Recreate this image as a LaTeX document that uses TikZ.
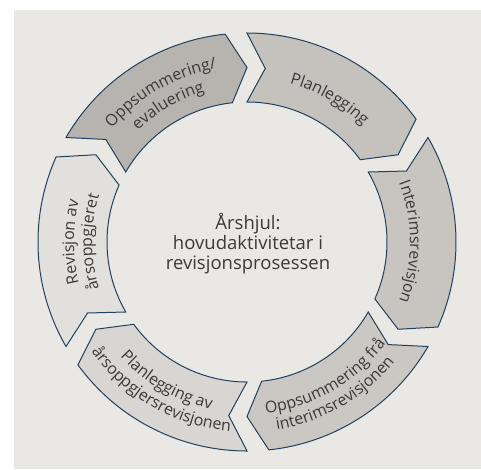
\documentclass[tikz,border=0pt]{standalone}
\usepackage{fontspec}
\setmainfont{Open Sans}
\usetikzlibrary{decorations.text}
\definecolor{bgc}{HTML}{EAE8E5}
\definecolor{rim}{HTML}{22405F}
\definecolor{ink}{HTML}{3A3A3A}
\definecolor{fa}{HTML}{C5C1BD}
\definecolor{fb}{HTML}{C8C4C0}
\definecolor{fc}{HTML}{CBC7C3}
\definecolor{fd}{HTML}{D8D5D2}
\definecolor{fe}{HTML}{E2E0DD}
\definecolor{ff}{HTML}{B7B3AE}

\begin{document}
\begin{tikzpicture}[x=1pt, y=1pt, blk/.style={draw=rim, line width=1pt},
	lbl/.style={decorate, decoration={text along path, text align=center,
		text color=ink, text={|\fontsize{16}{19}\selectfont|#1}}}]
	\useasboundingbox (-247, -227) rectangle (234, 242);
	\fill[bgc] (-233, -227) rectangle (234, 232);
	\draw[blk, fill=fa] (90:209) arc[start angle=90, end angle=36, radius=209] -- (30:174.5) -- (36:140) arc[start angle=36, end angle=90, radius=140] -- (84:174.5) -- cycle;
	\draw[blk, fill=fb] (30:209) arc[start angle=30, end angle=-24, radius=209] -- (-30:174.5) -- (-24:140) arc[start angle=-24, end angle=30, radius=140] -- (24:174.5) -- cycle;
	\draw[blk, fill=fc] (-30:209) arc[start angle=-30, end angle=-84, radius=209] -- (-90:174.5) -- (-84:140) arc[start angle=-84, end angle=-30, radius=140] -- (-36:174.5) -- cycle;
	\draw[blk, fill=fd] (-90:209) arc[start angle=-90, end angle=-144, radius=209] -- (-150:174.5) -- (-144:140) arc[start angle=-144, end angle=-90, radius=140] -- (-96:174.5) -- cycle;
	\draw[blk, fill=fe] (210:209) arc[start angle=210, end angle=156, radius=209] -- (150:174.5) -- (156:140) arc[start angle=156, end angle=210, radius=140] -- (204:174.5) -- cycle;
	\draw[blk, fill=ff] (150:209) arc[start angle=150, end angle=96, radius=209] -- (90:174.5) -- (96:140) arc[start angle=96, end angle=150, radius=140] -- (144:174.5) -- cycle;
	\node[align=center, text=ink, font=\fontsize{18.5}{20}\selectfont] (0) at (1, -2) {Årshjul:\\hovudaktivitetar i\\revisjonsprosessen};
	\path[lbl=Planlegging] (100:164) arc[start angle=100, end angle=20, radius=164];
	\path[lbl=Interimsrevisjon] (40:163) arc[start angle=40, end angle=-40, radius=163];
	\path[lbl={Oppsummering fr{å}}] (-105:172) arc[start angle=-105, end angle=-15, radius=172];
	\path[lbl=interimsrevisjonen] (-105:190) arc[start angle=-105, end angle=-15, radius=190];
	\path[lbl={Planlegging av}] (-165:171) arc[start angle=-165, end angle=-75, radius=171];
	\path[lbl={{å}rsoppgjersrevisjonen}] (-170:190) arc[start angle=-170, end angle=-70, radius=190];
	\path[lbl={Revisjon av}] (220:173) arc[start angle=220, end angle=140, radius=173];
	\path[lbl={{å}rsoppgjeret}] (220:155) arc[start angle=220, end angle=140, radius=155];
	\path[lbl=Oppsummering/] (165:176) arc[start angle=165, end angle=75, radius=176];
	\path[lbl=evaluering] (160:156) arc[start angle=160, end angle=80, radius=156];
\end{tikzpicture}
\end{document}
